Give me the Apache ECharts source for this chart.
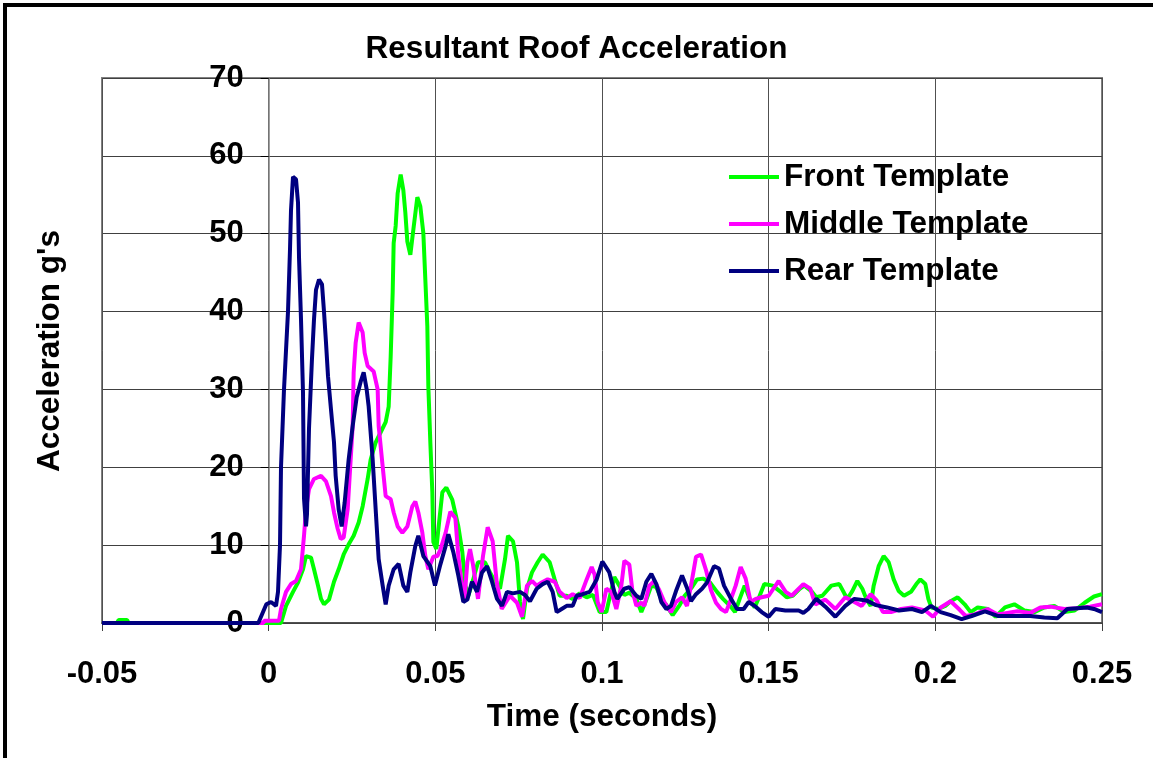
<!DOCTYPE html>
<html><head><meta charset="utf-8">
<script src="https://cdn.jsdelivr.net/npm/echarts@6/dist/echarts.min.js"></script>
<style>html,body{margin:0;padding:0;background:#fff}#c{width:1153px;height:758px}</style>
</head><body><div id="c"></div>
<script>
// ---- data (time in seconds, acceleration in g's) ----
const seriesNames = ['Front Template', 'Middle Template', 'Rear Template'];
const xTickLabels = ['-0.05', '0', '0.05', '0.1', '0.15', '0.2', '0.25'];
const yTickLabels = ['0', '10', '20', '30', '40', '50', '60', '70'];

const frontT = [-0.05, -0.0455, -0.045, -0.0425, -0.042, 0.0037, 0.0052, 0.0073, 0.0088, 0.0103, 0.0112, 0.0127, 0.0136, 0.0148, 0.0157, 0.0166, 0.0181, 0.0196, 0.021, 0.0225, 0.024, 0.0255, 0.027, 0.0282, 0.0297, 0.0306, 0.0321, 0.0336, 0.0351, 0.036, 0.0366, 0.0372, 0.0375, 0.0381, 0.0387, 0.0396, 0.0404, 0.041, 0.0416, 0.0425, 0.0434, 0.0446, 0.0455, 0.0464, 0.047, 0.0476, 0.0479, 0.0485, 0.0491, 0.0494, 0.0503, 0.0509, 0.0521, 0.0533, 0.0551, 0.0569, 0.0581, 0.059, 0.0599, 0.0613, 0.0628, 0.0649, 0.0664, 0.0679, 0.0694, 0.0709, 0.0718, 0.0733, 0.0745, 0.0754, 0.0763, 0.0775, 0.079, 0.0807, 0.0822, 0.0843, 0.0858, 0.0873, 0.0894, 0.0912, 0.0933, 0.0954, 0.0973, 0.0993, 0.1013, 0.1022, 0.1037, 0.1052, 0.1067, 0.1082, 0.1103, 0.1118, 0.1133, 0.1148, 0.1163, 0.1178, 0.1193, 0.1212, 0.1233, 0.1248, 0.127, 0.1285, 0.1303, 0.1324, 0.1345, 0.1363, 0.1384, 0.1399, 0.1413, 0.1428, 0.1443, 0.1458, 0.1473, 0.1487, 0.1512, 0.1533, 0.1554, 0.1572, 0.1593, 0.1607, 0.1628, 0.1643, 0.1661, 0.1688, 0.1712, 0.1727, 0.1736, 0.1751, 0.1766, 0.1781, 0.1793, 0.1806, 0.1815, 0.183, 0.1845, 0.186, 0.1875, 0.189, 0.1906, 0.1927, 0.1943, 0.1955, 0.197, 0.1979, 0.1988, 0.2009, 0.203, 0.2046, 0.2067, 0.2088, 0.2106, 0.2127, 0.2157, 0.2181, 0.2209, 0.2237, 0.2267, 0.2297, 0.2327, 0.2357, 0.2387, 0.2418, 0.2448, 0.2476, 0.25];
const frontV = [0, 0, 0.4, 0.4, 0, 0, 2.2, 4, 5.2, 6.9, 8.6, 8.4, 6.9, 4.8, 3.1, 2.4, 3, 5.3, 6.9, 8.8, 10.1, 11.2, 12.9, 15, 18.5, 21, 23.2, 24.5, 25.8, 27.8, 34.2, 42.4, 48.8, 51, 55.2, 57.6, 55.6, 52.7, 49, 47.3, 50.5, 54.7, 53.5, 50.1, 44.1, 38.1, 30.4, 23.2, 16.8, 10.4, 9.5, 12, 16.8, 17.4, 15.8, 12.4, 9.1, 4.8, 3.5, 5.5, 7.8, 7.8, 6.5, 5.3, 4.4, 8.2, 11.2, 10.5, 7.8, 2.7, 0.5, 4.4, 6.5, 7.8, 8.8, 7.8, 5.6, 3.5, 3.5, 3.1, 3.8, 3.3, 3.6, 1.4, 1.4, 3.1, 5.9, 4.8, 3.6, 3.9, 3.1, 1.4, 3, 4.8, 4.6, 3.1, 2.3, 1, 2.3, 3.5, 4.6, 5.6, 5.7, 5.2, 4, 3.1, 2.2, 1.4, 3.1, 4.8, 3.1, 2, 3.5, 5, 4.8, 4.1, 3.3, 3.5, 4.4, 4.8, 4.1, 3.3, 3.5, 4.8, 5, 3.8, 3.1, 4.1, 5.4, 4.4, 3.1, 2.2, 4.8, 7.3, 8.6, 7.8, 5.6, 4.1, 3.5, 4, 5, 5.6, 5, 3.1, 2, 1.8, 2.2, 2.8, 3.3, 2.4, 1.4, 2, 1.8, 0.8, 2, 2.4, 1.6, 1.4, 2, 2.2, 1.4, 1.6, 2.6, 3.4, 3.7];

const middleT = [-0.05, -0.0016, -0.0013, 0.0031, 0.0037, 0.0052, 0.0067, 0.0082, 0.0097, 0.0106, 0.0112, 0.0121, 0.0136, 0.0157, 0.0172, 0.0187, 0.0196, 0.0207, 0.0216, 0.0225, 0.0237, 0.0246, 0.0252, 0.0255, 0.0261, 0.027, 0.0282, 0.0288, 0.0297, 0.0315, 0.0327, 0.033, 0.0342, 0.0351, 0.0366, 0.0375, 0.0387, 0.0401, 0.0416, 0.0431, 0.044, 0.0449, 0.0461, 0.047, 0.0479, 0.0494, 0.0506, 0.0515, 0.0531, 0.0545, 0.056, 0.0569, 0.0581, 0.0587, 0.0596, 0.0604, 0.0613, 0.0628, 0.0643, 0.0657, 0.0672, 0.0684, 0.0699, 0.0724, 0.0745, 0.076, 0.0775, 0.079, 0.0804, 0.0819, 0.0837, 0.0858, 0.0873, 0.0894, 0.0912, 0.0933, 0.0954, 0.0969, 0.0978, 0.0987, 0.0999, 0.1013, 0.1028, 0.1043, 0.1058, 0.1067, 0.1082, 0.1091, 0.1103, 0.1118, 0.1127, 0.1142, 0.1157, 0.1172, 0.1187, 0.1207, 0.1222, 0.124, 0.1255, 0.1267, 0.1282, 0.1297, 0.1312, 0.1327, 0.1342, 0.1357, 0.1372, 0.1387, 0.1401, 0.1416, 0.1431, 0.1446, 0.1461, 0.1479, 0.15, 0.153, 0.1551, 0.1569, 0.1604, 0.1625, 0.164, 0.167, 0.17, 0.173, 0.1761, 0.1779, 0.1806, 0.1824, 0.1843, 0.1867, 0.1897, 0.193, 0.197, 0.1993, 0.2016, 0.2046, 0.2073, 0.2091, 0.2118, 0.2157, 0.2187, 0.2216, 0.2246, 0.2285, 0.2315, 0.2345, 0.2387, 0.2425, 0.2464, 0.25];
const middleV = [0, 0, 0.3, 0.3, 1.8, 4, 5, 5.4, 6.9, 11.2, 14.6, 17.2, 18.5, 18.9, 18.2, 16.3, 14.2, 12.1, 10.8, 11, 14.6, 21, 25.3, 32.2, 36, 38.6, 37.3, 34.7, 33, 32.3, 30, 25.3, 20.1, 16.3, 15.9, 14.2, 12.4, 11.6, 12.4, 15, 15.6, 14.2, 11.6, 8.6, 6.9, 8.5, 8.6, 9.4, 11.6, 14.3, 13.5, 8.6, 4.4, 2.8, 7.8, 9.5, 7.5, 3.1, 8.6, 12.3, 10.5, 5.3, 1.8, 3.5, 2.6, 0.8, 4.8, 5.4, 4.8, 5.2, 5.6, 5.3, 4, 3.2, 3.7, 3.2, 5.6, 7.2, 6.2, 2.7, 1.4, 4.4, 4, 1.8, 4.8, 8, 7.5, 4.2, 2.2, 2.6, 2.2, 4.8, 5.4, 4.2, 2.7, 1.4, 2.7, 3.3, 2.2, 4.8, 8.5, 8.8, 6.8, 4.2, 2.6, 1.8, 1.4, 3.1, 4.8, 7.2, 5.7, 2.7, 3.1, 3.3, 3.5, 5.4, 4, 3.5, 5, 4.4, 2.4, 3, 1.8, 3.3, 2.6, 2.2, 3.7, 2.9, 1.4, 1.4, 1.8, 2, 1.6, 0.8, 2, 2.8, 1.7, 0.9, 1.1, 1.8, 1.1, 1.3, 1.5, 1.3, 2, 2.1, 1.8, 1.9, 2.1, 2.4];

const rearT = [-0.05, -0.0031, -0.0016, -0.0007, 0.0007, 0.0022, 0.0028, 0.0034, 0.0037, 0.0046, 0.0058, 0.0064, 0.0067, 0.0073, 0.0082, 0.0088, 0.0091, 0.0097, 0.0103, 0.0106, 0.0112, 0.0115, 0.0121, 0.013, 0.0136, 0.0142, 0.0151, 0.016, 0.0166, 0.0172, 0.0178, 0.0187, 0.0196, 0.0201, 0.021, 0.0219, 0.0228, 0.024, 0.0252, 0.0264, 0.0276, 0.0285, 0.0294, 0.03, 0.0312, 0.0321, 0.033, 0.0342, 0.0351, 0.036, 0.0375, 0.039, 0.0404, 0.0416, 0.0425, 0.044, 0.0449, 0.0464, 0.0485, 0.0499, 0.0515, 0.0531, 0.0539, 0.0554, 0.0569, 0.0584, 0.0596, 0.061, 0.0625, 0.064, 0.0655, 0.067, 0.0685, 0.07, 0.0715, 0.0733, 0.0754, 0.0769, 0.0784, 0.0804, 0.0822, 0.0837, 0.0852, 0.0864, 0.0879, 0.0894, 0.0912, 0.0924, 0.0942, 0.0963, 0.0984, 0.1001, 0.1022, 0.1037, 0.1046, 0.1067, 0.1082, 0.1103, 0.1118, 0.1133, 0.1148, 0.1163, 0.1178, 0.1193, 0.1207, 0.1222, 0.124, 0.1255, 0.1267, 0.1282, 0.13, 0.1315, 0.1336, 0.1351, 0.1366, 0.1387, 0.1405, 0.1425, 0.144, 0.1461, 0.1479, 0.15, 0.152, 0.155, 0.159, 0.1604, 0.1619, 0.1643, 0.167, 0.17, 0.173, 0.1757, 0.1793, 0.1822, 0.1855, 0.1891, 0.193, 0.196, 0.1987, 0.2016, 0.2046, 0.2079, 0.2109, 0.2149, 0.2187, 0.2246, 0.2285, 0.2327, 0.2366, 0.2396, 0.2425, 0.2455, 0.2476, 0.25];
const rearV = [0, 0, 1.5, 2.4, 2.7, 2.2, 4, 10, 20, 30, 40, 48, 53, 57.3, 57, 54, 47, 39, 29.6, 16, 12.4, 14, 25, 34, 39, 42.8, 44.1, 43.5, 40, 36, 31.7, 27.4, 23.2, 18.9, 14.6, 12.4, 15.5, 21, 25.3, 29, 31, 32.2, 30, 27.8, 21, 14.6, 8.2, 4.8, 2.4, 4.8, 6.9, 7.6, 4.8, 4, 6.5, 9.9, 11.2, 8.6, 7.3, 4.8, 7.5, 9.9, 11.4, 9.1, 6.1, 2.7, 3, 5.3, 4, 6.5, 7.3, 5.3, 3.1, 2.2, 4, 3.8, 4, 3.6, 2.8, 4.4, 5, 5.3, 4, 1.4, 1.8, 2.2, 2.2, 3.5, 3.7, 4, 5.6, 7.9, 6.5, 4, 3.1, 4.4, 4.6, 3.5, 3.1, 5.3, 6.3, 5, 2.7, 1.8, 2.2, 4.1, 6.1, 4.5, 2.8, 3.7, 4.4, 5.2, 7.3, 7, 4.8, 3.1, 1.8, 1.8, 2.7, 2.1, 1.4, 0.8, 1.8, 1.6, 1.6, 1.3, 1.8, 3.1, 2.1, 0.8, 2.2, 3.1, 2.9, 2.3, 2, 1.6, 1.8, 1.4, 2.2, 1.4, 1, 0.5, 0.9, 1.5, 0.9, 0.9, 0.9, 0.7, 0.6, 1.8, 1.9, 2, 1.8, 1.4];

const seriesColors = ['#00FF00', '#FF00FF', '#000080'];

// ---- chart ----
function pairs(t, v) {
  const n = Math.min(t.length, v.length), out = [];
  for (let i = 0; i < n; i++) out.push([t[i], v[i]]);
  return out;
}
const FONT = '"Liberation Sans", Arial, sans-serif';
const txt = (size) => ({ fontFamily: FONT, fontWeight: 'bold', fontSize: size, color: '#000' });
const chart = echarts.init(document.getElementById('c'), null, { renderer: 'canvas' });
const dataSets = [pairs(frontT, frontV), pairs(middleT, middleV), pairs(rearT, rearV)];

const GRID_L = 102, GRID_W = 1000, X_MIN = -0.05, X_MAX = 0.25;
// the value axis crosses the time axis at t = 0
const yAxisShift = GRID_W * (0 - X_MIN) / (X_MAX - X_MIN);

chart.setOption({
  animation: false,
  backgroundColor: '#fff',
  title: { text: 'Resultant Roof Acceleration', left: 'center', top: 28, textStyle: txt(31.5) },
  legend: {
    orient: 'vertical', left: 724, top: 154, itemWidth: 50, itemHeight: 4, itemGap: 11, icon: 'rect',
    textStyle: Object.assign(txt(31.5), { lineHeight: 36 }),
    data: seriesNames
  },
  grid: { left: GRID_L, right: 1153 - GRID_L - GRID_W, top: 78, bottom: 135, show: true, borderColor: '#808080', borderWidth: 2, containLabel: false, outerBoundsMode: 'none' },
  xAxis: {
    type: 'value', min: X_MIN, max: X_MAX, interval: 0.05,
    axisLine: { onZero: false, lineStyle: { color: '#404040', width: 1.5 } },
    axisTick: { show: true, length: 8, lineStyle: { color: '#404040' } },
    axisLabel: { margin: 36, ...txt(31), formatter: (v) => xTickLabels[Math.round((v - X_MIN) / 0.05)] },
    splitLine: { show: true, lineStyle: { color: '#505050', width: 1 } },
    name: 'Time (seconds)', nameLocation: 'middle', nameGap: 78, nameTextStyle: txt(31.5)
  },
  yAxis: {
    type: 'value', min: 0, max: 70, interval: 10, offset: -yAxisShift,
    axisLine: { show: true, onZero: false, lineStyle: { color: '#808080', width: 1.5 } },
    axisTick: { show: true, length: 8, lineStyle: { color: '#000' } },
    axisLabel: { margin: 25, ...txt(31), formatter: (v) => yTickLabels[Math.round(v / 10)] },
    splitLine: { show: true, lineStyle: { color: '#404040', width: 1 } }
  },
  graphic: [
    { type: 'line', shape: { x1: 3, y1: 5, x2: 1153, y2: 5 }, style: { stroke: '#000', lineWidth: 4 } },
    { type: 'line', shape: { x1: 5, y1: 3, x2: 5, y2: 758 }, style: { stroke: '#000', lineWidth: 4 } },
    { type: 'text', x: 50, y: 351, rotation: Math.PI / 2,
      style: { text: "Acceleration g's", align: 'center', verticalAlign: 'middle', font: 'bold 31.5px ' + FONT, fill: '#000' } }
  ],
  series: seriesNames.map((name, i) => ({
    name, type: 'line', data: dataSets[i], symbol: 'none', showSymbol: false,
    lineStyle: { color: seriesColors[i], width: 4 }, itemStyle: { color: seriesColors[i] },
    emphasis: { disabled: true }
  }))
});
</script></body></html>
